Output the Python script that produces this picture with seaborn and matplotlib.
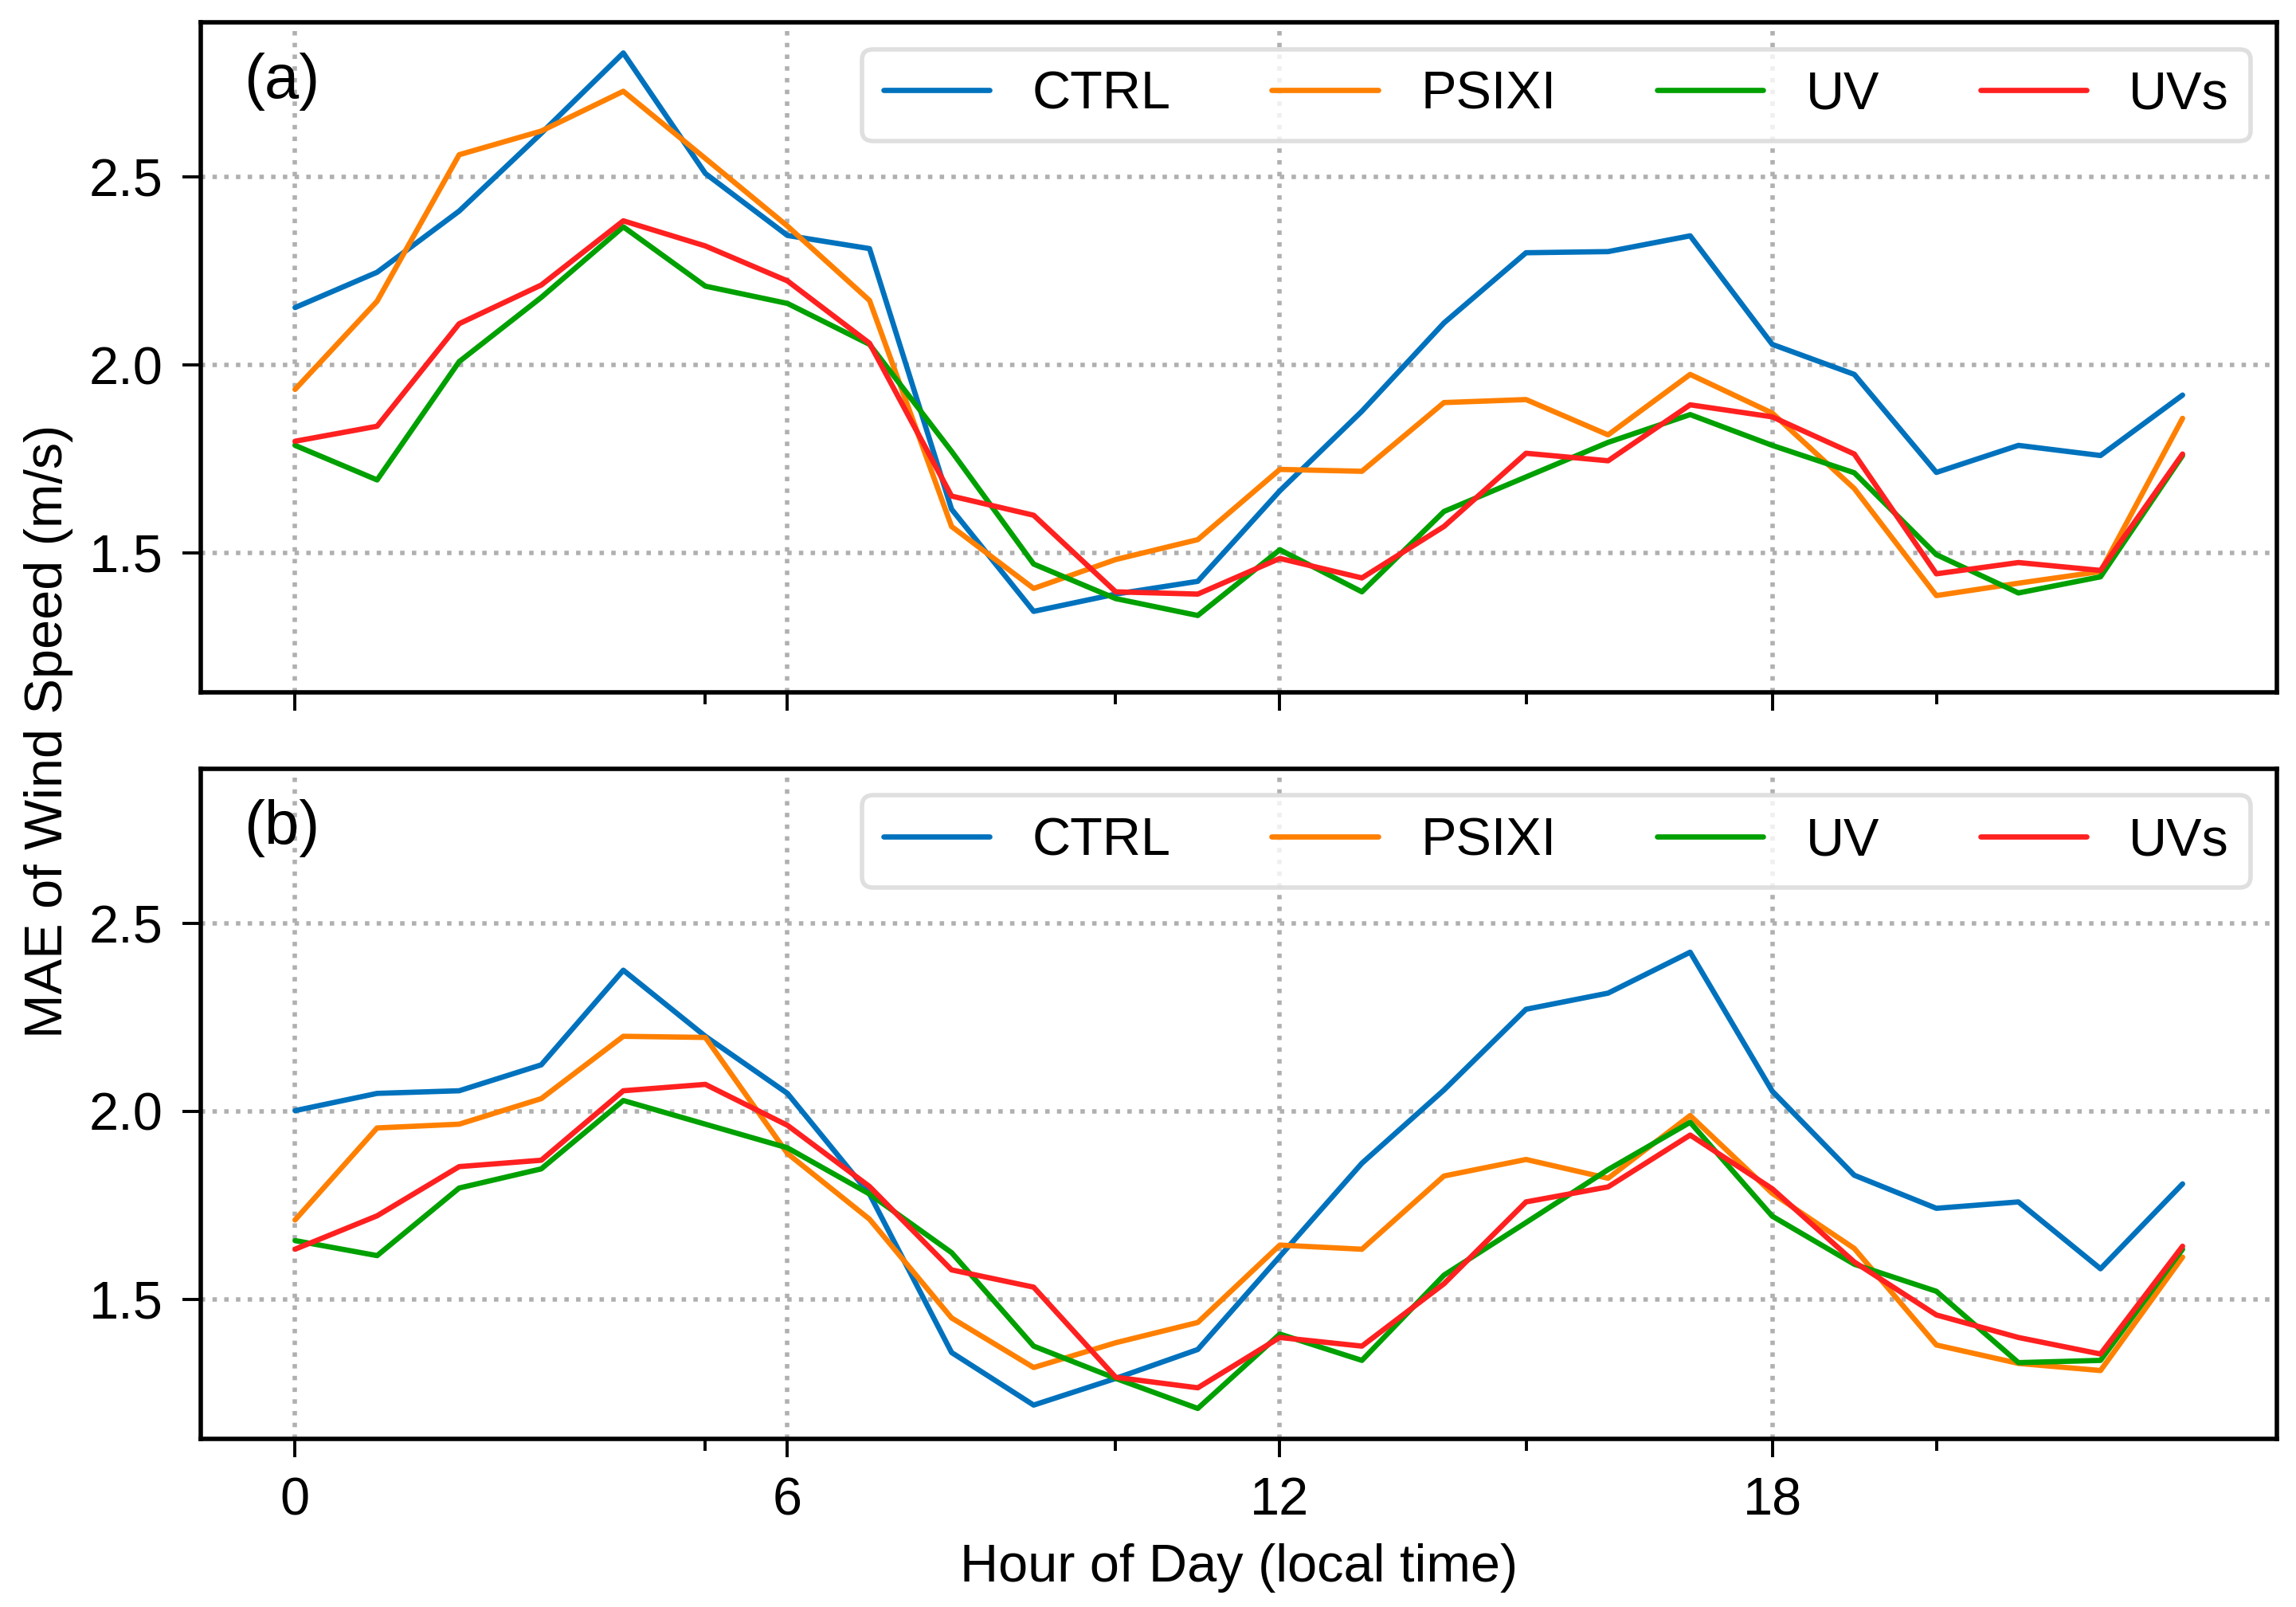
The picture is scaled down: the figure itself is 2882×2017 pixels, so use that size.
import numpy as np
import pandas as pd
import matplotlib
matplotlib.use("Agg")
import matplotlib.pyplot as plt
from matplotlib.ticker import FixedLocator, FormatStrFormatter
import seaborn as sns

# ── Data ──────────────────────────────────────────────────────────────────────
hours = list(range(24))
experiments = ["CTRL", "PSIXI", "UV", "UVs"]

# panel (a)
ctrl_a = [2.153, 2.247, 2.41, 2.617, 2.831, 2.51, 2.345, 2.31, 1.616, 1.344, 1.39, 1.424,
          1.665, 1.877, 2.112, 2.299, 2.302, 2.344, 2.055, 1.975, 1.714, 1.786, 1.759, 1.92]
psixi_a = [1.935, 2.17, 2.56, 2.623, 2.729, 2.55, 2.37, 2.172, 1.57, 1.405, 1.482, 1.535,
           1.722, 1.717, 1.9, 1.908, 1.814, 1.975, 1.872, 1.671, 1.386, 1.419, 1.45, 1.858]
uv_a = [1.786, 1.694, 2.009, 2.18, 2.368, 2.21, 2.164, 2.055, 1.77, 1.47, 1.378, 1.333,
        1.508, 1.396, 1.61, 1.702, 1.794, 1.868, 1.786, 1.713, 1.495, 1.393, 1.436, 1.759]
uvs_a = [1.797, 1.837, 2.11, 2.213, 2.384, 2.317, 2.224, 2.058, 1.651, 1.60, 1.396, 1.39,
         1.485, 1.433, 1.57, 1.765, 1.745, 1.894, 1.862, 1.763, 1.444, 1.474, 1.453, 1.763]

# panel (b)
ctrl_b = [2.002, 2.048, 2.055, 2.124, 2.376, 2.2, 2.048, 1.78, 1.358, 1.218, 1.289, 1.366,
          1.614, 1.862, 2.057, 2.272, 2.315, 2.424, 2.054, 1.83, 1.742, 1.759, 1.581, 1.807]
psixi_b = [1.711, 1.956, 1.966, 2.034, 2.2, 2.197, 1.888, 1.713, 1.45, 1.318, 1.384, 1.438,
           1.644, 1.633, 1.828, 1.872, 1.822, 1.989, 1.782, 1.635, 1.378, 1.329, 1.31, 1.612]
uv_b = [1.656, 1.616, 1.796, 1.847, 2.029, 1.966, 1.903, 1.78, 1.624, 1.375, 1.289, 1.209,
        1.407, 1.337, 1.564, 1.704, 1.845, 1.971, 1.721, 1.593, 1.521, 1.331, 1.337, 1.633]
uvs_b = [1.633, 1.722, 1.853, 1.87, 2.055, 2.072, 1.963, 1.80, 1.578, 1.532, 1.292, 1.264,
         1.398, 1.375, 1.541, 1.759, 1.799, 1.937, 1.794, 1.599, 1.458, 1.398, 1.354, 1.641]

panel_labels = ["(a)", "(b)"]
panel_data = [
    [ctrl_a, psixi_a, uv_a, uvs_a],
    [ctrl_b, psixi_b, uv_b, uvs_b],
]

x_major = [0, 6, 12, 18]
x_minor = [5, 10, 15, 20]
y_major = [1.5, 2.0, 2.5]

COLORS = {"CTRL": "#0072bd", "PSIXI": "#ff8000", "UV": "#00a000", "UVs": "#ff2020"}

# ── Style ─────────────────────────────────────────────────────────────────────
sns.set_style("ticks")
plt.rcParams.update({
    "font.family": ["Liberation Sans", "DejaVu Sans"],
    "font.size": 12,
    "text.color": "black",
    "axes.labelcolor": "black",
    "axes.edgecolor": "black",
    "axes.linewidth": 1.0,
    "xtick.color": "black",
    "ytick.color": "black",
    "xtick.major.size": 4.2,
    "xtick.minor.size": 2.7,
    "ytick.major.size": 4.2,
    "xtick.major.width": 0.7,
    "xtick.minor.width": 0.7,
    "ytick.major.width": 0.7,
    "xtick.major.pad": 4.3,
    "ytick.major.pad": 4.3,
    "xtick.labelsize": 12,
    "ytick.labelsize": 12,
    "legend.fontsize": 12,
    "legend.edgecolor": "#d8d8d8",
})

fig, axes = plt.subplots(2, 1, figsize=(7.205, 5.0425), dpi=400, sharex=True, sharey=True)
fig.subplots_adjust(left=0.0874, right=0.9917, top=0.986, bottom=0.1046, hspace=0.114)

for ax, label, series in zip(axes, panel_labels, panel_data):
    for name, vals in zip(experiments, series):
        df = pd.DataFrame({"hour": hours, "mae": vals})
        sns.lineplot(data=df, x="hour", y="mae", ax=ax, color=COLORS[name],
                     linewidth=1.2, label=name)
    ax.set_xlabel("")
    ax.set_ylabel("")
    ax.xaxis.set_major_locator(FixedLocator(x_major))
    ax.xaxis.set_minor_locator(FixedLocator(x_minor))
    ax.yaxis.set_major_locator(FixedLocator(y_major))
    ax.yaxis.set_major_formatter(FormatStrFormatter("%.1f"))
    ax.grid(True, which="major", linestyle=":", color="#b0b0b0", linewidth=1.0)
    ax.text(0.021, 0.955, label, transform=ax.transAxes, fontsize=14,
            ha="left", va="top")
    ax.legend(ncol=4, loc="upper right", columnspacing=1.9)

axes[1].set_xlabel("Hour of Day (local time)", fontsize=12, labelpad=4)
fig.text(0.021, 0.545, "MAE of Wind Speed (m/s)", rotation=90,
         ha="center", va="center", fontsize=12)

fig.savefig("out.png", dpi=400)
plt.close(fig)
